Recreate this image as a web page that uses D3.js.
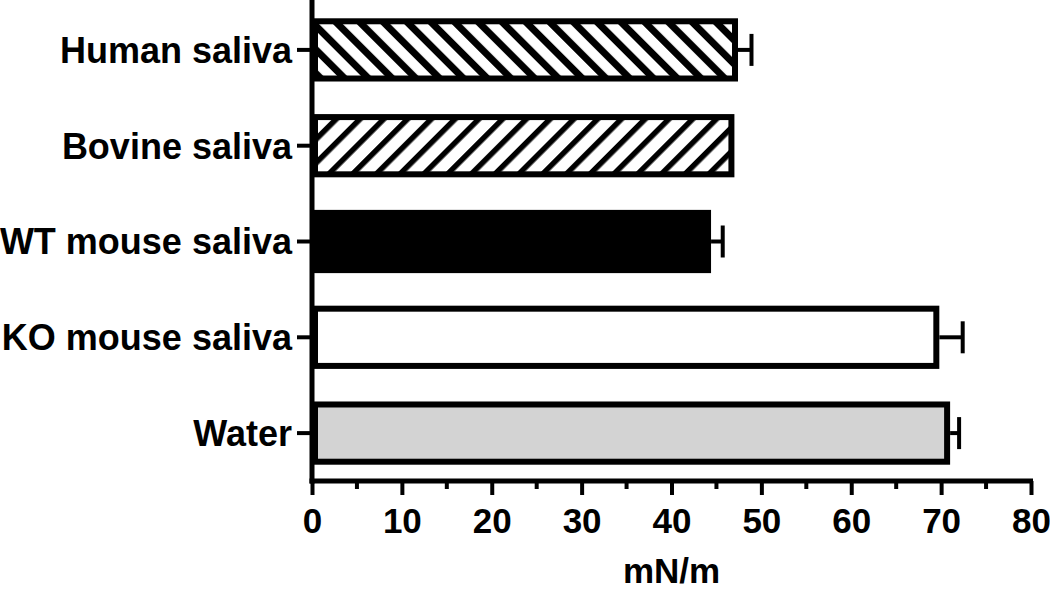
<!DOCTYPE html>
<html>
<head>
<meta charset="utf-8">
<script src="https://cdn.jsdelivr.net/npm/d3@7"></script>
<style>
  html, body { margin: 0; padding: 0; background: #fff; }
  #chart { width: 1050px; height: 590px; }
  text { font-family: "Liberation Sans", Arial, sans-serif; font-weight: bold; fill: #000; }
</style>
</head>
<body>
<div id="chart"></div>
<script>
// Surface tension of saliva samples
const categories = ['Human saliva', 'Bovine saliva', 'WT mouse saliva', 'KO mouse saliva', 'Water'];
const means = [47.4, 47.0, 44.4, 69.8, 71.0];
const errors = [1.5, 0, 1.3, 2.6, 1.0];
const fills = ['url(#hatch-back)', 'url(#hatch-fwd)', '#000', '#fff', '#d3d3d3'];
const xTicks = [0, 10, 20, 30, 40, 50, 60, 70, 80];
const xMinorTicks = [5, 15, 25, 35, 45, 55, 65, 75];
const xLabel = 'mN/m';

function drawChart() {
  const width = 1050;
  const height = 590;
  const margin = { left: 312, right: 19, top: 2, bottom: 109 };

  const svg = d3
    .select('#chart')
    .append('svg')
    .attr('width', width)
    .attr('height', height)
    .attr('viewBox', `0 0 ${width} ${height}`);

  const defs = svg.append('defs');
  function addHatch(id, angle, period, black) {
    const p = defs
      .append('pattern')
      .attr('id', id)
      .attr('patternUnits', 'userSpaceOnUse')
      .attr('width', period)
      .attr('height', period)
      .attr('patternTransform', `rotate(${angle})`);
    p.append('rect').attr('width', period).attr('height', period).attr('fill', '#fff');
    p.append('rect').attr('width', black).attr('height', period).attr('fill', '#000');
  }
  addHatch('hatch-back', -45, 16.8, 7);
  addHatch('hatch-fwd', 45, 16.8, 5.5);

  const x = d3.scaleLinear().domain([0, 80]).range([margin.left, width - margin.right]);
  const y = d3
    .scaleBand()
    .domain(categories)
    .range([margin.top, height - margin.bottom])
    .paddingInner(0.34)
    .paddingOuter(0.17);

  const axisY = height - margin.bottom;
  const stroke = 6;

  // bars
  const rows = categories.map((c, i) => ({ c, v: means[i], e: errors[i], fill: fills[i] }));
  const barG = svg.append('g').attr('class', 'bars');
  barG
    .selectAll('rect')
    .data(rows)
    .join('rect')
    .attr('x', x(0) + stroke / 2)
    .attr('y', (d) => y(d.c) + stroke / 2)
    .attr('width', (d) => x(d.v) - x(0) - stroke)
    .attr('height', y.bandwidth() - stroke)
    .attr('fill', (d) => d.fill)
    .attr('stroke', '#000')
    .attr('stroke-width', stroke);

  // error bars (upper side only)
  const errG = svg.append('g').attr('class', 'errors');
  const withErr = rows.filter((d) => d.e > 0);
  errG
    .selectAll('line.stem')
    .data(withErr)
    .join('line')
    .attr('class', 'stem')
    .attr('x1', (d) => x(d.v))
    .attr('x2', (d) => x(d.v + d.e))
    .attr('y1', (d) => y(d.c) + y.bandwidth() / 2)
    .attr('y2', (d) => y(d.c) + y.bandwidth() / 2)
    .attr('stroke', '#000')
    .attr('stroke-width', 4);
  errG
    .selectAll('line.cap')
    .data(withErr)
    .join('line')
    .attr('class', 'cap')
    .attr('x1', (d) => x(d.v + d.e))
    .attr('x2', (d) => x(d.v + d.e))
    .attr('y1', (d) => y(d.c) + y.bandwidth() / 2 - 16)
    .attr('y2', (d) => y(d.c) + y.bandwidth() / 2 + 16)
    .attr('stroke', '#000')
    .attr('stroke-width', 4);

  // y axis
  const yAxis = svg
    .append('g')
    .attr('transform', `translate(${x(0)},0)`)
    .call(d3.axisLeft(y).tickSize(15).tickPadding(5));
  yAxis.select('.domain').remove();
  yAxis.selectAll('.tick line').attr('stroke', '#000').attr('stroke-width', 4);
  yAxis
    .selectAll('.tick text')
    .attr('font-size', 36)
    .attr('dy', '0.36em')
    .attr('font-family', '"Liberation Sans", Arial, sans-serif')
    .attr('font-weight', 'bold');
  yAxis
    .append('line')
    .attr('x1', 0)
    .attr('x2', 0)
    .attr('y1', 0)
    .attr('y2', axisY + 2.5)
    .attr('stroke', '#000')
    .attr('stroke-width', 5);

  // x axis
  const xAxis = svg
    .append('g')
    .attr('transform', `translate(0,${axisY})`)
    .call(d3.axisBottom(x).tickValues(xTicks).tickSize(14).tickPadding(13).tickSizeOuter(0));
  xAxis.select('.domain').remove();
  xAxis.selectAll('.tick line').attr('stroke', '#000').attr('stroke-width', 4);
  xAxis
    .selectAll('.tick text')
    .attr('font-size', 35)
    .attr('font-family', '"Liberation Sans", Arial, sans-serif')
    .attr('font-weight', 'bold');
  xAxis
    .selectAll('line.minor')
    .data(xMinorTicks)
    .join('line')
    .attr('class', 'minor')
    .attr('x1', (d) => x(d))
    .attr('x2', (d) => x(d))
    .attr('y1', 0)
    .attr('y2', 8)
    .attr('stroke', '#000')
    .attr('stroke-width', 4);
  xAxis
    .append('line')
    .attr('x1', x(0) - 2.5)
    .attr('x2', x(80) + 2)
    .attr('y1', 0)
    .attr('y2', 0)
    .attr('stroke', '#000')
    .attr('stroke-width', 5);

  svg
    .append('text')
    .attr('x', (x(0) + x(80)) / 2)
    .attr('y', 583)
    .attr('text-anchor', 'middle')
    .attr('font-size', 35)
    .text(xLabel);
}

drawChart();
</script>
</body>
</html>
